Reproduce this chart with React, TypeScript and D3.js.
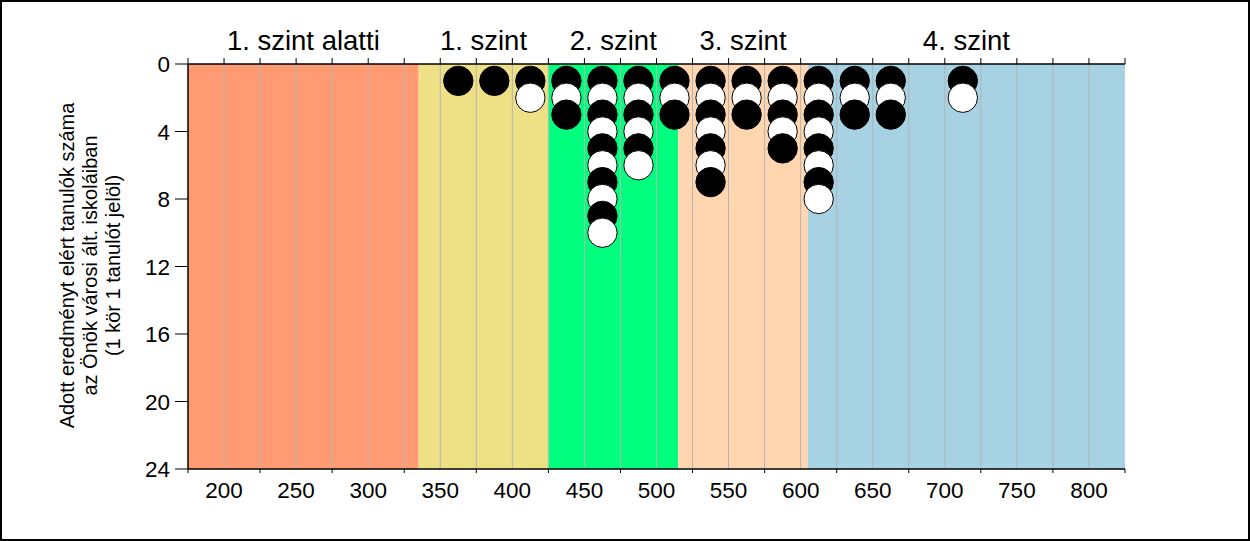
import React from "react";
import * as d3 from "d3";

const levelNames = ["1. szint alatti", "1. szint", "2. szint", "3. szint", "4. szint"];
const levelStarts = [175, 335, 425, 515, 605];
const levelEnds = [335, 425, 515, 605, 825];
const levelColors = ["#FF9A72", "#EEE084", "#00FF7F", "#FFD6B0", "#A6D2E3"];

const binCenters = [362.5, 387.5, 412.5, 437.5, 462.5, 487.5, 512.5, 537.5, 562.5, 587.5, 612.5, 637.5, 662.5, 712.5];
const counts = [1, 1, 2, 3, 10, 6, 3, 7, 3, 5, 8, 3, 3, 2];

const xTickLabels = [200, 250, 300, 350, 400, 450, 500, 550, 600, 650, 700, 750, 800];
const yTickLabels = [0, 4, 8, 12, 16, 20, 24];
const yTitleLines = ["Adott eredményt elért tanulók száma", "az Önök városi ált. iskoláiban", "(1 kör 1 tanulót jelöl)"];

const W = 1250, H = 541;
const left = 188, right = 1125, top = 64, bottom = 469;
const font = "Arial, 'Liberation Sans', sans-serif";

export default function App() {
  const x = d3.scaleLinear().domain([175, 825]).range([left, right]);
  const y = d3.scaleLinear().domain([0, 24]).range([top, bottom]);
  const grid = d3.range(200, 825, 25);
  const topTicks = d3.range(175, 826, 25);
  const botTicks = d3.range(175, 826, 50);
  const r = (y(1) - y(0)) * 0.87;

  const dots: { cx: number; k: number }[] = [];
  binCenters.forEach((c, i) => {
    for (let k = 1; k <= counts[i]; k++) dots.push({ cx: c, k });
  });

  return (
    <svg width={W} height={H} style={{ position: "absolute", left: 0, top: 0, background: "#fff" }} fontFamily={font}>
      <rect x={0} y={0} width={W} height={H} fill="#fff" />
      {levelNames.map((n, i) => (
        <rect key={n} x={x(levelStarts[i])} y={top} width={x(levelEnds[i]) - x(levelStarts[i])} height={bottom - top} fill={levelColors[i]} />
      ))}
      {grid.map((g) => (
        <line key={g} x1={x(g)} x2={x(g)} y1={top} y2={bottom} stroke="#B4B4B4" strokeWidth={1} />
      ))}
      {levelNames.map((n, i) => (
        <text key={n} x={x((levelStarts[i] + levelEnds[i]) / 2)} y={50} textAnchor="middle" fontSize={27.5}>{n}</text>
      ))}
      {/* axes */}
      <line x1={left} x2={right} y1={top} y2={top} stroke="#000" strokeWidth={1.5} />
      <line x1={left} x2={right} y1={bottom} y2={bottom} stroke="#000" strokeWidth={1.5} />
      <line x1={left} x2={left} y1={top} y2={bottom} stroke="#000" strokeWidth={1.5} />
      {topTicks.map((t) => (
        <line key={t} x1={x(t)} x2={x(t)} y1={top} y2={top - 6} stroke="#000" strokeWidth={1} />
      ))}
      {botTicks.map((t) => (
        <line key={t} x1={x(t)} x2={x(t)} y1={bottom} y2={bottom + 4} stroke="#000" strokeWidth={1} />
      ))}
      {xTickLabels.map((t) => (
        <text key={t} x={x(t)} y={498} textAnchor="middle" fontSize={22.5}>{t}</text>
      ))}
      {yTickLabels.map((t) => (
        <g key={t}>
          <line x1={left - 13} x2={left} y1={y(t)} y2={y(t)} stroke="#000" strokeWidth={1} />
          <text x={170} y={y(t)} dy="0.36em" textAnchor="end" fontSize={22.5}>{t}</text>
        </g>
      ))}
      <g transform={`translate(90, ${(top + bottom) / 2 - 1}) rotate(-90)`}>
        {yTitleLines.map((l, i) => (
          <text key={i} x={0} y={(i - 1) * 23} dy="0.35em" textAnchor="middle" fontSize={20}>{l}</text>
        ))}
      </g>
      {dots.map((d, i) => (
        <circle key={i} cx={x(d.cx)} cy={y(d.k)} r={r} fill={d.k % 2 === 1 ? "#000" : "#fff"} stroke="#000" strokeWidth={1} />
      ))}
      <rect x={1} y={1} width={W - 2} height={H - 2} fill="none" stroke="#000" strokeWidth={2} />
    </svg>
  );
}
